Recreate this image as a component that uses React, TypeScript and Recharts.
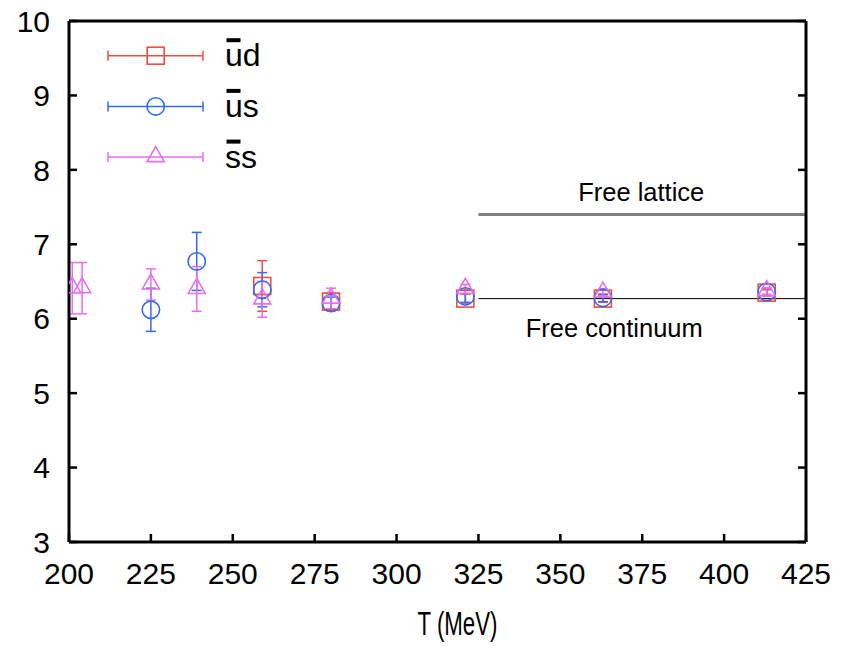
import React from 'react';
import { ComposedChart, Scatter, XAxis, YAxis, ErrorBar, ReferenceLine, Legend } from 'recharts';

const FONT = '"Liberation Sans", Arial, Helvetica, sans-serif';

const xTicks = [200, 225, 250, 275, 300, 325, 350, 375, 400, 425];
const yTicks = [3, 4, 5, 6, 7, 8, 9, 10];

// ūd
const udT = [259, 280, 321, 363, 413];
const udV = [6.44, 6.23, 6.27, 6.27, 6.35];
const udE = [0.34, 0.12, 0.06, 0.05, 0.04];

// ūs
const usT = [225, 239, 259, 280, 321, 363, 413];
const usV = [6.12, 6.77, 6.39, 6.21, 6.3, 6.28, 6.36];
const usE = [0.29, 0.39, 0.23, 0.08, 0.08, 0.05, 0.05];

// s̄s
const ssT = [201, 204, 225, 239, 259, 280, 321, 363, 413];
const ssV = [6.41, 6.41, 6.46, 6.4, 6.26, 6.27, 6.4, 6.35, 6.37];
const ssE = [0.345, 0.345, 0.21, 0.3, 0.24, 0.14, 0.06, 0.05, 0.04];

const freeStart = 325;
const freeEnd = 425;
const freeLattice = 7.4;
const freeContinuum = 6.27;

const RED = '#f04e3c';
const BLUE = '#2f6cf2';
const MAG = '#ea6cf0';

const build = (t: number[], v: number[], e: number[]) => t.map((x, i) => ({ T: x, v: v[i], e: e[i] }));

const udData = build(udT, udV, udE);
const usData = build(usT, usV, usE);
const ssData = build(ssT, ssV, ssE);

const SquareShape = (color: string) => (p: any) => (
  <rect x={p.cx - 8.5} y={p.cy - 8.5} width={17} height={17} fill="none" stroke={color} strokeWidth={1.6} />
);
const CircleShape = (color: string) => (p: any) => (
  <circle cx={p.cx} cy={p.cy} r={8.7} fill="none" stroke={color} strokeWidth={1.6} />
);
const TriShape = (color: string) => (p: any) => (
  <path
    d={`M${p.cx},${p.cy - 10.5} L${p.cx + 8.5},${p.cy + 4.5} L${p.cx - 8.5},${p.cy + 4.5} Z`}
    fill="none"
    stroke={color}
    strokeWidth={1.6}
  />
);

const legendItems = [
  { bar: 'u', rest: 'd', color: RED, kind: 'square' },
  { bar: 'u', rest: 's', color: BLUE, kind: 'circle' },
  { bar: 's', rest: 's', color: MAG, kind: 'tri' },
];

const LegendContent = () => (
  <svg width={200} height={160} style={{ display: 'block', overflow: 'visible' }}>
    {legendItems.map((it, i) => {
      const cy = 27.7 + i * 50.7;
      const mx = 57.7;
      const marker =
        it.kind === 'square' ? (
          <rect x={mx - 8.5} y={cy - 8.5} width={17} height={17} fill="none" stroke={it.color} strokeWidth={1.6} />
        ) : it.kind === 'circle' ? (
          <circle cx={mx} cy={cy} r={8.7} fill="none" stroke={it.color} strokeWidth={1.6} />
        ) : (
          <path
            d={`M${mx},${cy - 10.5} L${mx + 8.5},${cy + 4.5} L${mx - 8.5},${cy + 4.5} Z`}
            fill="none"
            stroke={it.color}
            strokeWidth={1.6}
          />
        );
      return (
        <g key={i}>
          <line x1={10} x2={105} y1={cy} y2={cy} stroke={it.color} strokeWidth={1.5} />
          <line x1={10} x2={10} y1={cy - 5} y2={cy + 5} stroke={it.color} strokeWidth={1.5} />
          <line x1={105} x2={105} y1={cy - 5} y2={cy + 5} stroke={it.color} strokeWidth={1.5} />
          {marker}
          <rect x={128.5} y={cy - 17.5} width={14} height={4} fill="#000" />
          <text x={127} y={cy + 10.5} fontSize={32} fontFamily={FONT} fill="#000">
            {it.bar + it.rest}
          </text>
        </g>
      );
    })}
  </svg>
);

const makeLabel = (text: string, dx: number, dy: number) => (props: any) => {
  const vb = props.viewBox || {};
  const x = (vb.x || 0) + (vb.width || 0) / 2 + dx;
  const y = (vb.y || 0) + (vb.height || 0) / 2 + dy;
  return (
    <text x={x} y={y} textAnchor="middle" dominantBaseline="central" fontSize={25.5} fontFamily={FONT} fill="#000">
      {text}
    </text>
  );
};

const XLabel = (props: any) => {
  const vb = props.viewBox || {};
  const x = (vb.x || 0) + (vb.width || 0) / 2 + 20;
  return (
    <text
      x={x}
      y={635}
      textAnchor="middle"
      fontSize={33}
      fontFamily={FONT}
      fill="#000"
      textLength={80}
      lengthAdjust="spacingAndGlyphs"
    >
      T (MeV)
    </text>
  );
};

const noTick = () => null;

export default function App() {
  const tickStyle = { fill: '#000', fontSize: 30, fontFamily: FONT };
  const tickLine = { stroke: '#000', strokeWidth: 2.5 };
  const axisLine = { stroke: '#000', strokeWidth: 3 };
  return (
    <div style={{ width: 846, height: 646, marginTop: -8, marginLeft: -8 }}>
      <ComposedChart width={846} height={646} margin={{ top: 20, right: 39, bottom: 0, left: 0 }}>
        <XAxis
          xAxisId="b"
          type="number"
          dataKey="T"
          domain={[200, 425]}
          ticks={xTicks}
          interval={0}
          orientation="bottom"
          height={104}
          tickSize={-8}
          tickMargin={29}
          tick={tickStyle}
          tickLine={tickLine}
          axisLine={axisLine}
          allowDataOverflow
          label={XLabel}
        />
        <XAxis
          xAxisId="t"
          type="number"
          domain={[200, 425]}
          ticks={xTicks}
          interval={0}
          orientation="top"
          height={1}
          tickSize={-8}
          tick={noTick}
          tickLine={tickLine}
          axisLine={axisLine}
          allowDataOverflow
        />
        <YAxis
          yAxisId="l"
          type="number"
          dataKey="v"
          domain={[3, 10]}
          ticks={yTicks}
          interval={0}
          orientation="left"
          width={69}
          tickSize={-8}
          tickMargin={27}
          tick={tickStyle}
          tickLine={tickLine}
          axisLine={axisLine}
          allowDataOverflow
        />
        <YAxis
          yAxisId="r"
          type="number"
          domain={[3, 10]}
          ticks={yTicks}
          interval={0}
          orientation="right"
          width={1}
          tickSize={-8}
          tick={noTick}
          tickLine={tickLine}
          axisLine={axisLine}
          allowDataOverflow
        />
        <ReferenceLine
          xAxisId="b"
          yAxisId="l"
          segment={[
            { x: freeStart, y: freeLattice },
            { x: freeEnd, y: freeLattice },
          ]}
          stroke="#808080"
          strokeWidth={3}
          label={makeLabel('Free lattice', -1, -23)}
        />
        <ReferenceLine
          xAxisId="b"
          yAxisId="l"
          segment={[
            { x: freeStart, y: freeContinuum },
            { x: freeEnd, y: freeContinuum },
          ]}
          stroke="#000"
          strokeWidth={1}
          label={makeLabel('Free continuum', -28, 29)}
        />
        <Scatter xAxisId="b" yAxisId="l" name="ud" data={udData} dataKey="v" shape={SquareShape(RED)} isAnimationActive={false}>
          <ErrorBar dataKey="e" direction="y" width={5} stroke={RED} strokeWidth={1.5} />
        </Scatter>
        <Scatter xAxisId="b" yAxisId="l" name="us" data={usData} dataKey="v" shape={CircleShape(BLUE)} isAnimationActive={false}>
          <ErrorBar dataKey="e" direction="y" width={5} stroke={BLUE} strokeWidth={1.5} />
        </Scatter>
        <Scatter xAxisId="b" yAxisId="l" name="ss" data={ssData} dataKey="v" shape={TriShape(MAG)} isAnimationActive={false}>
          <ErrorBar dataKey="e" direction="y" width={5} stroke={MAG} strokeWidth={1.5} />
        </Scatter>
        <Legend
          layout="vertical"
          align="center"
          verticalAlign="middle"
          content={LegendContent}
          wrapperStyle={{ position: 'absolute', left: 98, top: 28, width: 200, height: 160 }}
        />
      </ComposedChart>
    </div>
  );
}
